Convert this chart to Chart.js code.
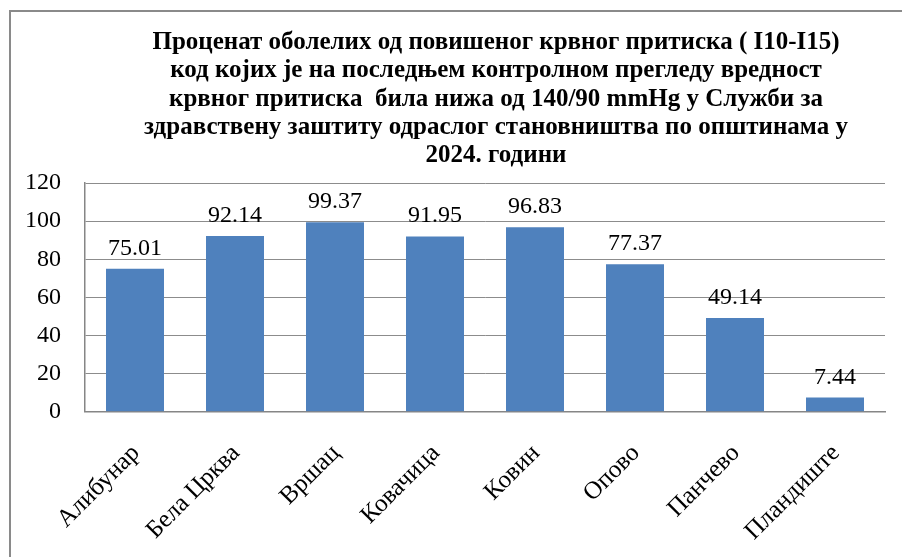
<!DOCTYPE html>
<html>
<head>
<meta charset="utf-8">
<script src="https://cdn.jsdelivr.net/npm/chart.js@4.4.1/dist/chart.umd.min.js"></script>
<style>
  html, body { margin: 0; padding: 0; background: #fff; overflow: hidden; }
  #wrap { position: relative; width: 902px; height: 557px; overflow: hidden; }
  #frame { position: absolute; left: 9px; top: 10px; width: 1000px; height: 1000px; border: 2px solid #8a8a8a; box-sizing: border-box; }
  canvas { position: absolute; left: 0; top: 0; }
</style>
</head>
<body>
<div id="wrap">
  <div id="frame"></div>
  <canvas id="c" width="902" height="557"></canvas>
</div>
<script>
const titleLines = [
  "Проценат оболелих од повишеног крвног притиска ( I10-I15)",
  "код којих је на последњем контролном прегледу вредност",
  "крвног притиска  била нижа од 140/90 mmHg у Служби за",
  "здравствену заштиту одраслог становништва по општинама у",
  "2024. години"
];
const categories = ["Алибунар", "Бела Црква", "Вршац", "Ковачица", "Ковин", "Опово", "Панчево", "Пландиште"];
const values = [75.01, 92.14, 99.37, 91.95, 96.83, 77.37, 49.14, 7.44];
const yTicks = [0, 20, 40, 60, 80, 100, 120];

const SERIF = "'Liberation Serif', 'Times New Roman', serif";

const titlePlugin = {
  id: 'customTitle',
  afterDraw(chart) {
    const ctx = chart.ctx;
    ctx.save();
    ctx.fillStyle = '#000';
    ctx.font = "bold 25px " + SERIF;
    ctx.textAlign = 'center';
    ctx.textBaseline = 'alphabetic';
    const baselines = [49, 77.3, 105.7, 134, 162.3];
    titleLines.forEach((t, i) => ctx.fillText(t, 496, baselines[i]));
    ctx.restore();
  }
};

const valueLabels = {
  id: 'valueLabels',
  afterDatasetsDraw(chart) {
    const ctx = chart.ctx;
    ctx.save();
    ctx.fillStyle = '#000';
    ctx.font = "24px " + SERIF;
    ctx.textAlign = 'center';
    ctx.textBaseline = 'alphabetic';
    const meta = chart.getDatasetMeta(0);
    meta.data.forEach((bar, i) => {
      ctx.fillText(values[i].toFixed(2), bar.x, bar.y - 14);
    });
    ctx.restore();
  }
};

new Chart(document.getElementById('c'), {
  type: 'bar',
  data: {
    labels: categories,
    datasets: [{
      data: values,
      backgroundColor: '#4F81BD',
      borderWidth: 0,
      barPercentage: 0.58,
      categoryPercentage: 1.0
    }]
  },
  options: {
    responsive: false,
    animation: false,
    events: [],
    layout: { padding: { top: 183, right: 17, bottom: 0, left: 0 } },
    plugins: {
      legend: { display: false },
      title: { display: false },
      tooltip: { enabled: false }
    },
    scales: {
      x: {
        grid: { display: false, drawTicks: false },
        border: { display: true, color: '#868686', width: 1.5 },
        ticks: {
          color: '#000',
          font: { family: SERIF, size: 25 },
          minRotation: 45,
          maxRotation: 45,
          padding: 27,
          labelOffset: 1,
          autoSkip: false
        },
        afterFit(scale) { scale.height = 145.3; }
      },
      y: {
        min: 0,
        max: 120,
        afterBuildTicks(scale) { scale.ticks = yTicks.map(v => ({ value: v })); },
        grid: { color: '#8c8c8c', lineWidth: 1, drawTicks: false },
        border: { display: true, color: '#868686', width: 1.5 },
        ticks: {
          color: '#000',
          font: { family: SERIF, size: 24 },
          padding: 24
        },
        afterFit(scale) { scale.width = 85; }
      }
    }
  },
  plugins: [titlePlugin, valueLabels]
});
</script>
</body>
</html>
